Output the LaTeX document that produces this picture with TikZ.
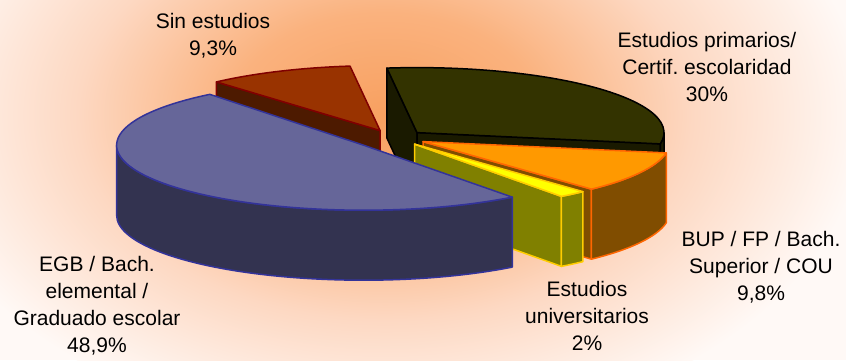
\documentclass[tikz,border=0pt]{standalone}
\usepackage{fontspec}
\setmainfont{Liberation Sans}

\definecolor{glowA}{HTML}{F8A060}
\definecolor{glowB}{HTML}{FAB27E}
\definecolor{glowC}{HTML}{FDD8C2}
\definecolor{glowD}{HTML}{FFF9F6}
\definecolor{cSinTop}{HTML}{993300}
\definecolor{cSinSide}{HTML}{4D1A00}
\definecolor{cSinLine}{HTML}{800000}
\definecolor{cPrimTop}{HTML}{333300}
\definecolor{cPrimSide}{HTML}{1A1A00}
\definecolor{cBupTop}{HTML}{FF9900}
\definecolor{cBupSide}{HTML}{804D00}
\definecolor{cBupLine}{HTML}{FF6600}
\definecolor{cUnivTop}{HTML}{FFFF00}
\definecolor{cUnivSide}{HTML}{808000}
\definecolor{cUnivLine}{HTML}{FFCC00}
\definecolor{cEgbTop}{HTML}{666699}
\definecolor{cEgbSide}{HTML}{333350}
\definecolor{cEgbLine}{HTML}{333399}

\pgfdeclareradialshading{glow}{\pgfpointorigin}{color(0bp)=(glowA); color(8bp)=(glowB); color(16bp)=(glowC); color(25bp)=(glowD); color(50bp)=(glowD)}

\begin{document}
\begin{tikzpicture}[x=1pt, y=1pt,
                    every node/.style={font=\fontsize{21}{27}\selectfont\frenchspacing, align=center, inner sep=0pt},
                    rim/.style={x radius=247pt, y radius=65pt},
                    slice/.style={line width=1.5pt, line join=round},
                    sintop/.style={slice, fill=cSinTop, draw=cSinLine},
                    sinside/.style={slice, fill=cSinSide, draw=cSinLine},
                    primtop/.style={slice, fill=cPrimTop, draw=black},
                    primside/.style={slice, fill=cPrimSide, draw=black},
                    buptop/.style={slice, fill=cBupTop, draw=cBupLine},
                    bupside/.style={slice, fill=cBupSide, draw=cBupLine},
                    univtop/.style={slice, fill=cUnivTop, draw=cUnivLine},
                    univside/.style={slice, fill=cUnivSide, draw=cUnivLine},
                    egbtop/.style={slice, fill=cEgbTop, draw=cEgbLine},
                    egbside/.style={slice, fill=cEgbSide, draw=cEgbLine}
                    ]

  \useasboundingbox (0,0) rectangle (846,360);

  % background glow
  \begin{scope}
    \clip (0,0) rectangle (846,360);
    \fill[glowD] (0,0) rectangle (846,360);
    \shade[shading=glow] (385,245) ellipse [x radius=480pt, y radius=320pt];
  \end{scope}

  % Sin estudios
  \begin{scope}[shift={(380.1,229.4)}]
    \filldraw[sinside] (0,0) -- (131.5:247 and 65) -- ++(0,-70) -- (0,-70) -- cycle;
    \filldraw[sintop] (0,0) -- (97:247 and 65) arc[start angle=97, end angle=131.5, rim] -- cycle;
  \end{scope}

  % Estudios primarios
  \begin{scope}[shift={(417,227.4)}]
    \filldraw[primside] (0,0) -- (97:247 and 65) -- ++(0,-70) -- (0,-70) -- cycle;
    \filldraw[primside] (0,0) -- (-10:247 and 65) -- ++(0,-70) -- (0,-70) -- cycle;
    \filldraw[primside] (-10:247 and 65) arc[start angle=-10, end angle=0, rim]
      -- ++(0,-70) arc[start angle=0, end angle=-10, rim] -- cycle;
    \filldraw[primtop] (0,0) -- (-10:247 and 65) arc[start angle=-10, end angle=97, rim] -- cycle;
  \end{scope}

  % BUP / FP
  \begin{scope}[shift={(423,218.4)}]
    \filldraw[bupside] (0,0) -- (-47:247 and 65) -- ++(0,-70) -- (0,-70) -- cycle;
    \filldraw[bupside] (-47:247 and 65) arc[start angle=-47, end angle=-10, rim]
      -- ++(0,-70) arc[start angle=-10, end angle=-47, rim] -- cycle;
    \filldraw[buptop] (0,0) -- (-47:247 and 65) arc[start angle=-47, end angle=-10, rim] -- cycle;
  \end{scope}

  % Estudios universitarios
  \begin{scope}[shift={(414.5,215.9)}]
    \filldraw[univside] (0,0) -- (-53.5:247 and 65) -- ++(0,-70) -- (0,-70) -- cycle;
    \filldraw[univside] (-53.5:247 and 65) arc[start angle=-53.5, end angle=-47, rim]
      -- ++(0,-70) arc[start angle=-47, end angle=-53.5, rim] -- cycle;
    \filldraw[univtop] (0,0) -- (-53.5:247 and 65) arc[start angle=-53.5, end angle=-47, rim] -- cycle;
  \end{scope}

  % EGB
  \begin{scope}[shift={(363.6,214.8)}]
    \filldraw[egbside] (180:247 and 65) arc[start angle=180, end angle=307, rim]
      -- ++(0,-70) arc[start angle=307, end angle=180, rim] -- cycle;
    \filldraw[egbtop] (0,0) -- (128.5:247 and 65) arc[start angle=128.5, end angle=307, rim] -- cycle;
  \end{scope}

  % labels
  \node (sinlbl) at (213,324) {Sin estudios\\9,3\%};
  \node (primlbl) at (707,293) {Estudios primarios/\\Certif. escolaridad\\30\%};
  \node (buplbl) at (761,93) {BUP / FP / Bach.\\Superior / COU\\9,8\%};
  \node (univlbl) at (587,44) {Estudios\\universitarios\\2\%};
  \node (egblbl) at (97,54) {EGB / Bach.\\elemental /\\Graduado escolar\\48,9\%};

\end{tikzpicture}
\end{document}
